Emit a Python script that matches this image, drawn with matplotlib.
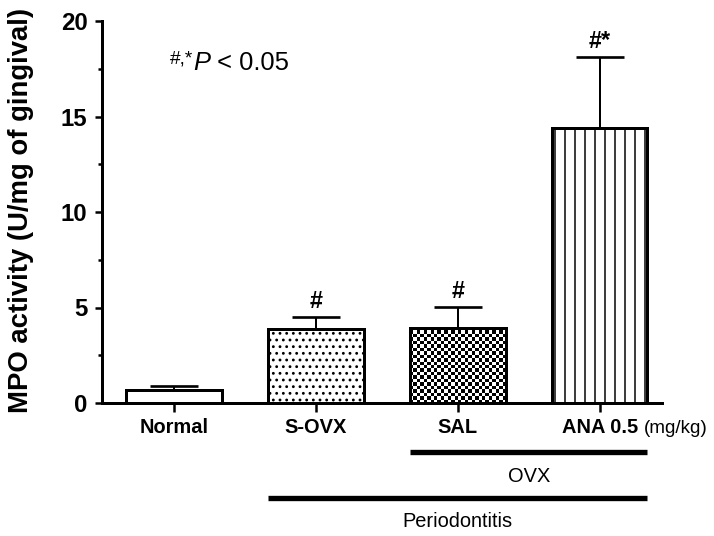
import numpy as np
import matplotlib
matplotlib.use("Agg")
import matplotlib.pyplot as plt
from matplotlib.transforms import blended_transform_factory
from matplotlib.ticker import MultipleLocator

categories = ["Normal", "S-OVX", "SAL", "ANA 0.5"]
means = [0.70, 3.87, 3.93, 14.4]
sems = [0.20, 0.63, 1.10, 3.70]
signs = ["", "#", "#", "#*"]
unit_label = "(mg/kg)"
groups = [("OVX", 2, 3), ("Periodontitis", 1, 3)]
y_ticks = [0, 5, 10, 15, 20]

DPI = 120
plt.rcParams["font.family"] = ["Liberation Sans", "DejaVu Sans"]
plt.rcParams["hatch.linewidth"] = 0.9

fig = plt.figure(figsize=(714 / DPI, 536 / DPI), dpi=DPI)
ax = fig.add_axes([102 / 714, (536 - 403) / 536, 560 / 714, 382 / 536])

x = np.arange(len(categories))
width = 0.675
styles = [
    dict(facecolor="white", hatch=None),
    dict(facecolor="white", hatch="..."),
    dict(facecolor="none", hatch=None),
    dict(facecolor="white", hatch="||"),
]

ax.errorbar(x, means, yerr=[np.zeros(len(sems)), sems], fmt="none",
            ecolor="black", elinewidth=1.2, capsize=14.4, capthick=1.6, zorder=1)

bars = []
for xi, m, st in zip(x, means, styles):
    b = ax.bar(xi, m, width=width, edgecolor="black", linewidth=1.8,
               zorder=3, **st)[0]
    bars.append(b)

ax.set_xlim(-0.51, 3.44)
ax.set_ylim(0, 20)

# checkerboard fill for SAL bar
sal = bars[2]
x0, w, h = sal.get_x(), sal.get_width(), sal.get_height()
p0 = ax.transData.transform((x0, 0))
p1 = ax.transData.transform((x0 + w, h))
cell = 3.4
nx = max(int(round(abs(p1[0] - p0[0]) / cell)), 1)
ny = max(int(round(abs(p1[1] - p0[1]) / cell)), 1)
checker = (np.indices((ny, nx)).sum(axis=0) % 2).astype(float)
im = ax.imshow(checker, cmap="gray", extent=(x0, x0 + w, 0, h), aspect="auto",
               interpolation="nearest", zorder=2, origin="lower")
im.set_clip_path(sal)

# significance markers
for xi, m, s, sg in zip(x, means, sems, signs):
    if sg:
        ax.annotate(sg, xy=(xi, m + s), xytext=(0, 2.4), textcoords="offset points",
                    ha="center", va="bottom", fontsize=14, fontweight="bold")

# axes styling
for side in ["top", "right"]:
    ax.spines[side].set_visible(False)
for side in ["left", "bottom"]:
    ax.spines[side].set_linewidth(1.8)

ax.set_yticks(y_ticks)
ax.yaxis.set_minor_locator(MultipleLocator(2.5))
ax.tick_params(axis="y", which="major", length=4.2, width=1.5, pad=4.5,
               labelsize=14.4)
ax.tick_params(axis="y", which="minor", length=2.4, width=1.5)
for lab in ax.get_yticklabels():
    lab.set_fontweight("bold")

ax.set_xticks(x)
ax.set_xticklabels(categories, fontweight="bold", fontsize=12)
ax.tick_params(axis="x", length=5.4, width=1.5, pad=3.5)

ax.set_ylabel("MPO activity (U/mg of gingival)", fontsize=16.5, fontweight="bold")
ax.yaxis.set_label_coords(-0.121, 0.505)

fig.canvas.draw()
ana_lab = ax.get_xticklabels()[3]
ax.annotate(unit_label, xy=(1, 0), xycoords=ana_lab, xytext=(3.5, 0),
            textcoords="offset points", ha="left", va="bottom", fontsize=11.3)

# group lines
tr = blended_transform_factory(ax.transData, ax.transAxes)
line_y = [-0.128, -0.249]
text_y = [-0.193, -0.309]
for (name, i0, i1), ly, ty in zip(groups, line_y, text_y):
    xa = x[i0] - width / 2
    xb = x[i1] + width / 2
    ax.plot([xa, xb], [ly, ly], color="black", linewidth=3.2, transform=tr,
            clip_on=False, solid_capstyle="butt")
    ax.text((x[i0] + x[i1]) / 2, ty, name, transform=tr, ha="center",
            va="center", fontsize=12)

# p-value note
t1 = ax.text(0.1625, 0.872, "P", transform=ax.transAxes, fontsize=15.3,
             style="italic", ha="left", va="baseline")
ax.annotate(" < 0.05", xy=(1, 0), xycoords=t1, ha="left", va="bottom",
            fontsize=15.3)
ax.annotate("#,*", xy=(0, 1), xycoords=t1, xytext=(0, 0),
            textcoords="offset points", ha="right", va="top", fontsize=11.5)

fig.savefig("out.png", dpi=DPI)
